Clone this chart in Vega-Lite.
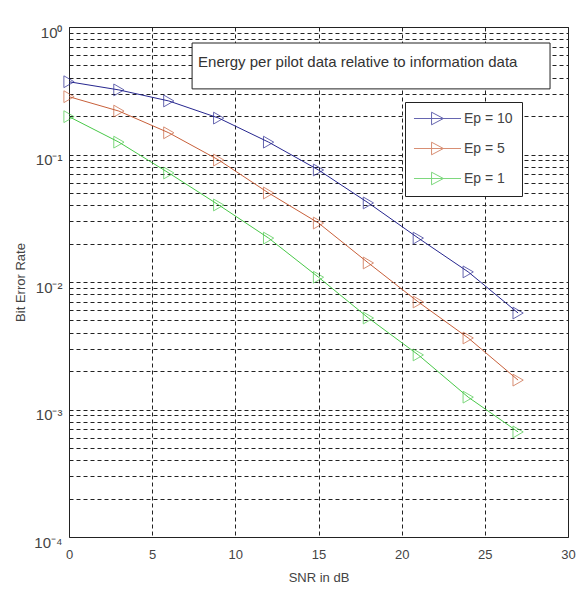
{
  "$schema": "https://vega.github.io/schema/vega-lite/v6.json",
  "autosize": "none",
  "width": 499,
  "height": 510,
  "padding": {"left": 69, "top": 27, "right": 16, "bottom": 54},
  "background": "white",
  "config": {
    "font": "Liberation Sans",
    "view": {"stroke": "#222222", "strokeWidth": 1},
    "axis": {
      "gridColor": "#222222", "gridDash": [4, 3], "gridOpacity": 1, "gridWidth": 1,
      "domain": false, "ticks": false,
      "labelColor": "#444444", "titleColor": "#444444",
      "labelFontSize": 13, "titleFontSize": 13, "titleFontWeight": "normal",
      "labelFlush": false, "labelOverlap": false
    }
  },
  "datasets": {
    "ber": [
      {"series": "Ep = 10", "snr": 0, "ber": 0.372},
      {"series": "Ep = 10", "snr": 3, "ber": 0.321},
      {"series": "Ep = 10", "snr": 6, "ber": 0.263},
      {"series": "Ep = 10", "snr": 9, "ber": 0.193},
      {"series": "Ep = 10", "snr": 12, "ber": 0.125},
      {"series": "Ep = 10", "snr": 15, "ber": 0.0756},
      {"series": "Ep = 10", "snr": 18, "ber": 0.0417},
      {"series": "Ep = 10", "snr": 21, "ber": 0.0221},
      {"series": "Ep = 10", "snr": 24, "ber": 0.0120},
      {"series": "Ep = 10", "snr": 27, "ber": 0.00571},
      {"series": "Ep = 5", "snr": 0, "ber": 0.284},
      {"series": "Ep = 5", "snr": 3, "ber": 0.219},
      {"series": "Ep = 5", "snr": 6, "ber": 0.148},
      {"series": "Ep = 5", "snr": 9, "ber": 0.0905},
      {"series": "Ep = 5", "snr": 12, "ber": 0.0499},
      {"series": "Ep = 5", "snr": 15, "ber": 0.0290},
      {"series": "Ep = 5", "snr": 18, "ber": 0.0141},
      {"series": "Ep = 5", "snr": 21, "ber": 0.00697},
      {"series": "Ep = 5", "snr": 24, "ber": 0.00364},
      {"series": "Ep = 5", "snr": 27, "ber": 0.00170},
      {"series": "Ep = 1", "snr": 0, "ber": 0.198},
      {"series": "Ep = 1", "snr": 3, "ber": 0.125},
      {"series": "Ep = 1", "snr": 6, "ber": 0.0716},
      {"series": "Ep = 1", "snr": 9, "ber": 0.0402},
      {"series": "Ep = 1", "snr": 12, "ber": 0.0221},
      {"series": "Ep = 1", "snr": 15, "ber": 0.0109},
      {"series": "Ep = 1", "snr": 18, "ber": 0.00522},
      {"series": "Ep = 1", "snr": 21, "ber": 0.00268},
      {"series": "Ep = 1", "snr": 24, "ber": 0.00125},
      {"series": "Ep = 1", "snr": 27, "ber": 0.000667}
    ],
    "note": [
      {"label": "Energy per pilot data relative to information data"}
    ]
  },
  "layer": [
    {
      "data": {"name": "ber"},
      "mark": {"type": "line", "strokeWidth": 1},
      "encoding": {
        "x": {
          "field": "snr", "type": "quantitative",
          "scale": {"domain": [0, 30], "nice": false},
          "axis": {"values": [0, 5, 10, 15, 20, 25, 30], "title": "SNR in dB", "labelPadding": 11, "titlePadding": 10}
        },
        "y": {
          "field": "ber", "type": "quantitative",
          "scale": {"type": "log", "domain": [0.0001, 1], "nice": false},
          "axis": {
            "title": "Bit Error Rate", "labelPadding": 7, "titlePadding": 6, "labelOffset": 5, "labelFontSize": 15,
            "values": [0.0001, 0.0002, 0.0003, 0.0004, 0.0005, 0.0006, 0.0007, 0.0008, 0.0009,
                       0.001, 0.002, 0.003, 0.004, 0.005, 0.006, 0.007, 0.008, 0.009,
                       0.01, 0.02, 0.03, 0.04, 0.05, 0.06, 0.07, 0.08, 0.09,
                       0.1, 0.2, 0.3, 0.4, 0.5, 0.6, 0.7, 0.8, 0.9, 1],
            "labelExpr": "datum.value == 1 ? '10⁰' : abs(datum.value - 0.1) < 1e-9 ? '10⁻¹' : abs(datum.value - 0.01) < 1e-10 ? '10⁻²' : abs(datum.value - 0.001) < 1e-11 ? '10⁻³' : abs(datum.value - 0.0001) < 1e-12 ? '10⁻⁴' : ''"
          }
        },
        "color": {
          "field": "series", "type": "nominal",
          "scale": {"domain": ["Ep = 10", "Ep = 5", "Ep = 1"], "range": ["#26268f", "#c8603a", "#48c848"]},
          "legend": {
            "title": null, "orient": "none", "legendX": 336, "legendY": 75,
            "fillColor": "white", "strokeColor": "#222222", "padding": 9,
            "symbolType": "M-3.36,0L3.36,0M-0.85,-0.9L0.85,0L-0.85,0.9Z",
            "symbolSize": 196, "symbolStrokeWidth": 1, "symbolFillColor": "transparent",
            "symbolOffset": 16, "labelOffset": 19, "rowPadding": 13,
            "labelFontSize": 14, "labelColor": "#444444", "labelFont": "Liberation Sans"
          }
        }
      }
    },
    {
      "data": {"name": "ber"},
      "mark": {"type": "point", "shape": "triangle-right", "filled": false, "size": 140, "strokeWidth": 1},
      "encoding": {
        "x": {"field": "snr", "type": "quantitative"},
        "y": {"field": "ber", "type": "quantitative"},
        "color": {"field": "series", "type": "nominal"}
      }
    },
    {
      "data": {"name": "note"},
      "mark": {"type": "rect", "fill": "white", "stroke": "#222222", "strokeWidth": 1},
      "encoding": {
        "x": {"datum": 7.4, "type": "quantitative"},
        "x2": {"datum": 28.92},
        "y": {"datum": 0.749, "type": "quantitative"},
        "y2": {"datum": 0.327}
      }
    },
    {
      "data": {"name": "note"},
      "mark": {"type": "text", "align": "left", "baseline": "middle", "fontSize": 15, "color": "#333333", "font": "Liberation Sans"},
      "encoding": {
        "x": {"datum": 7.76, "type": "quantitative"},
        "y": {"datum": 0.531, "type": "quantitative"},
        "text": {"field": "label"}
      }
    }
  ]
}
